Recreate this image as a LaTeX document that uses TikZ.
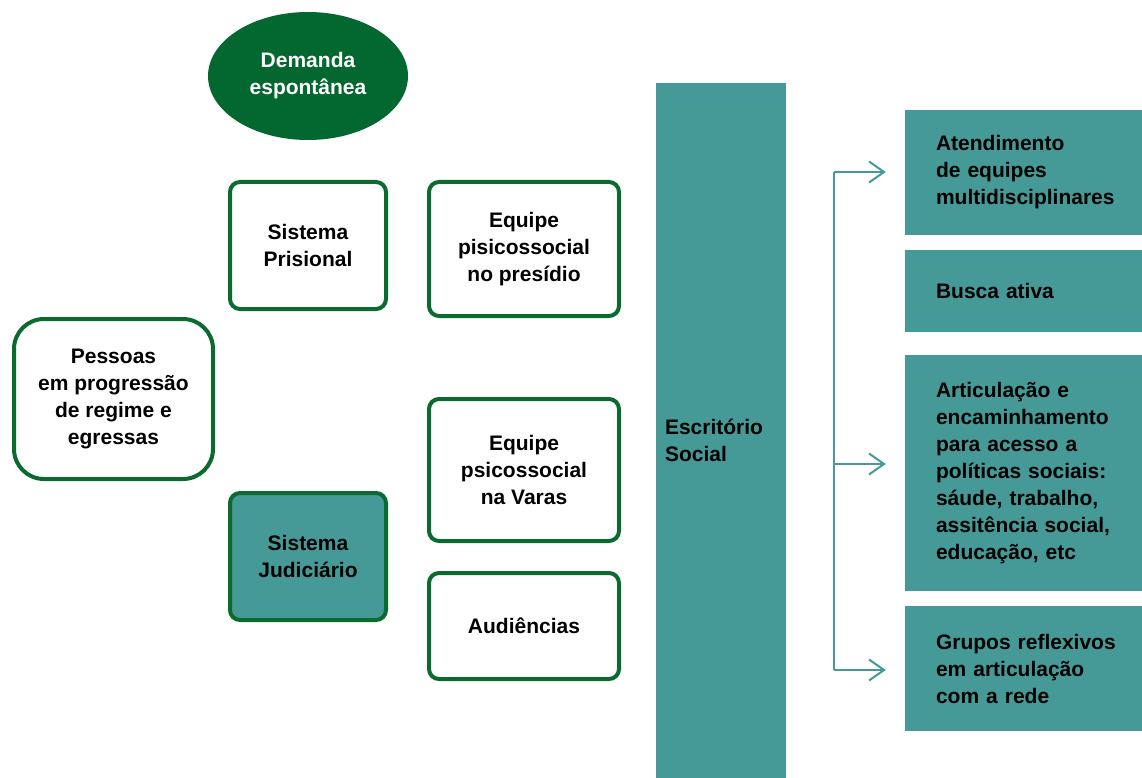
\documentclass[tikz,border=0pt]{standalone}
\usepackage{fontspec}
\setmainfont{Liberation Sans}
\usetikzlibrary{arrows.meta,shapes.geometric}
\definecolor{dgreen}{HTML}{036830}
\definecolor{bgreen}{HTML}{0B6B2F}
\definecolor{teal1}{HTML}{459A97}
\newcommand\nohyph{\hyphenpenalty=10000\relax\hfuzz=30pt\relax}
\tikzset{
  txt/.style={font=\fontsize{21}{27}\selectfont\bfseries, align=center, inner sep=0pt},
  gbox/.style={txt, draw=bgreen, line width=4pt, rounded corners=10pt, fill=white},
  rbox/.style={font={\fontsize{21}{27}\selectfont\bfseries\nohyph}, align=left, fill=teal1, inner sep=0pt, text=black},
  arr/.style={draw=teal1, line width=2pt, -{Straight Barb[length=15pt,width=21pt,line width=2pt]}, shorten >=19pt},
}
\begin{document}
\begin{tikzpicture}[x=1pt,y=-1pt]
\useasboundingbox[fill=white] (0,0) rectangle (1142,778);

\node[ellipse, fill=dgreen, minimum width=200pt, minimum height=128pt, txt, text=white] (dem) at (308,76) {Demanda\\espontânea};

\node[gbox, minimum width=156pt, minimum height=127pt] (sp) at (308,245.5) {Sistema\\Prisional};
\node[gbox, minimum width=190pt, minimum height=134pt] (ep) at (524,249) {Equipe\\pisicossocial\\no presídio};
\node[gbox, rounded corners=30pt, minimum width=199pt, minimum height=160pt] (pes) at (113.5,399) {Pessoas\\em progressão\\de regime e\\egressas};
\node[gbox, minimum width=190pt, minimum height=142pt] (ev) at (524,470) {Equipe\\psicossocial\\na Varas};
\node[gbox, fill=teal1, minimum width=156pt, minimum height=127pt] (sj) at (308,556.5) {Sistema\\Judiciário};
\node[gbox, minimum width=190pt, minimum height=106pt] (au) at (524,626) {Audiências};

\node[rbox, minimum width=130pt, minimum height=714pt, text width=112pt] (es) at (721,440) {Escritório\\Social};

\node[rbox, minimum width=237pt, minimum height=125pt, text width=175pt] (b1) at (1023.5,172.5) {Atendimento\\de equipes\\multidisciplinares};
\node[rbox, minimum width=237pt, minimum height=82pt, text width=175pt] (b2) at (1023.5,291) {Busca ativa};
\node[rbox, minimum width=237pt, minimum height=236pt, text width=175pt] (b3) at (1023.5,473) {Articulação e\\encaminhamento\\para acesso a\\políticas sociais:\\sáude, trabalho,\\assitência~social,\\educação, etc};
\node[rbox, minimum width=237pt, minimum height=125pt, text width=175pt] (b4) at (1023.5,668.5) {Grupos~reflexivos\\em articulação\\com a rede};

\coordinate (vt) at (834,172);
\coordinate (vm) at (834,464);
\coordinate (vb) at (834,670);
\draw[teal1, line width=2pt] (vt) -- (vb);
\draw[arr] (vt) -- (vt -| b1.west);
\draw[arr] (vm) -- (vm -| b3.west);
\draw[arr] (vb) -- (vb -| b4.west);
\end{tikzpicture}
\end{document}
